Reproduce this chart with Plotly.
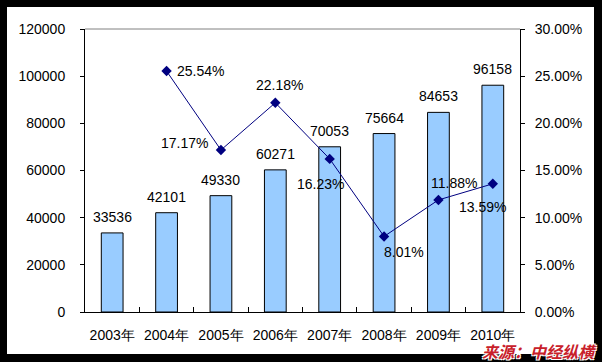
import plotly.graph_objects as go

years = ["2003年", "2004年", "2005年", "2006年", "2007年", "2008年", "2009年", "2010年"]
values = [33536, 42101, 49330, 60271, 70053, 75664, 84653, 96158]
growth = [None, 0.2554, 0.1717, 0.2218, 0.1623, 0.0801, 0.1188, 0.1359]
# label offsets (px) for growth labels relative to their points
g_shift = [None, (34, 0), (-36, 7), (4, 18), (-9, -25), (20, -16), (16, 17), (-10, -23)]

FONT = "Arial, Liberation Sans, sans-serif"

fig = go.Figure()
fig.add_trace(go.Bar(
    x=years, y=values, width=0.4,
    marker=dict(color="#99CCFF", line=dict(color="black", width=1)),
    showlegend=False, hoverinfo="skip",
))
gx = [y for y, g in zip(years, growth) if g is not None]
gy = [g for g in growth if g is not None]
fig.add_trace(go.Scatter(
    x=gx, y=gy, yaxis="y2", mode="lines+markers",
    line=dict(color="#000080", width=1),
    marker=dict(symbol="diamond", size=8, color="#000080"),
    showlegend=False, hoverinfo="skip",
))

annotations = []
for yr, v in zip(years, values):
    annotations.append(dict(x=yr, y=v, xref="x", yref="y", text=str(v), showarrow=False,
                            yanchor="bottom", xanchor="center", yshift=6,
                            font=dict(size=14, color="black", family=FONT)))
for yr, g, sh in zip(years, growth, g_shift):
    if g is None:
        continue
    annotations.append(dict(x=yr, y=g, xref="x", yref="y2", text=f"{g:.2%}", showarrow=False,
                            xanchor="center", yanchor="middle", xshift=sh[0], yshift=sh[1],
                            font=dict(size=14, color="black", family=FONT)))

W, H = 602, 362
L, R, T, B = 85, 82, 29, 50
pw, ph = W - L - R, H - T - B

annotations.append(dict(x=(598 - L) / pw, y=(H - 351 - B) / ph, xref="paper", yref="paper",
                        text="<b><i>来源：中经纵横</i></b>", borderpad=0,
                        showarrow=False, xanchor="right", yanchor="middle",
                        font=dict(size=16, color="#C8202A", family="Noto Sans CJK SC",
                                  shadow="-1px -1px 0 #fff, 1px -1px 0 #fff, -1px 1px 0 #fff, 1px 1px 0 #fff")))

shapes = [
    dict(type="rect", xref="paper", yref="paper",
         x0=(7 - L) / pw, x1=(594 - L) / pw, y0=(H - 354 - B) / ph, y1=(H - 7 - B) / ph,
         fillcolor="white", line=dict(width=0), layer="below"),
    dict(type="line", xref="paper", yref="paper", x0=0, x1=1, y0=1, y1=1,
         line=dict(color="#808080", width=1)),
]

fig.update_layout(
    width=W, height=H,
    margin=dict(l=L, r=R, t=T, b=B, pad=0),
    paper_bgcolor="black", plot_bgcolor="white",
    font=dict(family=FONT, size=14, color="black"),
    bargap=0.6,
    xaxis=dict(type="category", showline=True, linecolor="black", linewidth=1,
               ticks="inside", tickson="boundaries", ticklen=5, tickcolor="black",
               showgrid=False, zeroline=False, ticklabelstandoff=10,
               tickfont=dict(size=14)),
    yaxis=dict(range=[0, 120000], dtick=20000, tickformat="d", showline=True,
               linecolor="black", linewidth=1, ticks="outside", ticklen=4,
               tickcolor="black", showgrid=False, zeroline=False,
               ticklabelstandoff=12, tickfont=dict(size=14)),
    yaxis2=dict(range=[0, 0.30], dtick=0.05, tickformat=".2%", overlaying="y",
                side="right", showline=True, linecolor="black", linewidth=1,
                ticks="outside", ticklen=4, tickcolor="black", showgrid=False,
                zeroline=False, ticklabelstandoff=7, tickfont=dict(size=14)),
    annotations=annotations,
    shapes=shapes,
)

fig.write_html("out.html", config={"displayModeBar": False},
               post_script="document.body.style.margin='0';document.body.style.overflow='hidden';")
